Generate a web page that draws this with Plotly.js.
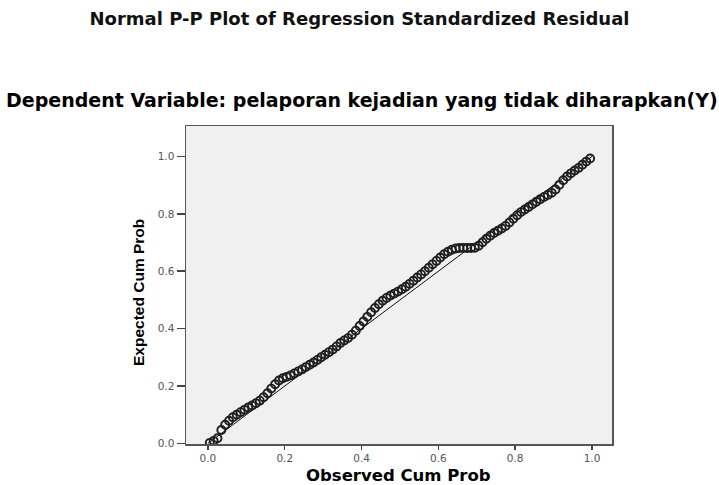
<!DOCTYPE html>
<html>
<head>
<meta charset="utf-8">
<script src="https://cdn.plot.ly/plotly-3.0.1.min.js"></script>
<style>html,body{margin:0;padding:0;background:#fff;}#chart{width:719px;height:485px;}</style>
</head>
<body>
<div id="chart"></div>
<script>
// Observed cumulative probability (x) and expected cumulative probability (y)
var observedCumProb = [
0.005,0.015,0.025,0.035,0.045,0.055,0.065,0.075,0.085,0.095,
0.105,0.115,0.125,0.135,0.145,0.155,0.165,0.175,0.185,0.195,
0.205,0.215,0.225,0.235,0.245,0.255,0.265,0.275,0.285,0.295,
0.305,0.315,0.325,0.335,0.345,0.355,0.365,0.375,0.385,0.395,
0.405,0.415,0.425,0.435,0.445,0.455,0.465,0.475,0.485,0.495,
0.505,0.515,0.525,0.535,0.545,0.555,0.565,0.575,0.585,0.595,
0.605,0.615,0.625,0.635,0.645,0.655,0.665,0.675,0.685,0.695,
0.705,0.715,0.725,0.735,0.745,0.755,0.765,0.775,0.785,0.795,
0.805,0.815,0.825,0.835,0.845,0.855,0.865,0.875,0.885,0.895,
0.905,0.915,0.925,0.935,0.945,0.955,0.965,0.975,0.985,0.995
];
var expectedCumProb = [
0.002,0.009,0.018,0.047,0.065,0.079,0.091,0.100,0.109,0.117,
0.125,0.132,0.140,0.149,0.161,0.175,0.191,0.206,0.219,0.227,
0.232,0.237,0.244,0.251,0.258,0.266,0.274,0.282,0.291,0.300,
0.309,0.318,0.327,0.338,0.350,0.359,0.367,0.379,0.393,0.409,
0.425,0.441,0.457,0.472,0.485,0.497,0.507,0.515,0.522,0.529,
0.537,0.546,0.556,0.567,0.578,0.589,0.600,0.612,0.624,0.636,
0.648,0.659,0.668,0.675,0.679,0.681,0.681,0.681,0.681,0.682,
0.689,0.701,0.713,0.724,0.733,0.741,0.749,0.758,0.770,0.783,
0.795,0.806,0.815,0.824,0.833,0.842,0.851,0.859,0.866,0.873,
0.885,0.901,0.917,0.930,0.941,0.951,0.960,0.971,0.982,0.993
];
// Reference diagonal line endpoints
var refLineX = [0, 1];
var refLineY = [0, 1];
var tickValues = [0, 0.2, 0.4, 0.6, 0.8, 1.0];
var tickLabels = ["0.0", "0.2", "0.4", "0.6", "0.8", "1.0"];

var titleText = "Normal P-P Plot of Regression Standardized Residual";
var subtitleText = "Dependent Variable: pelaporan kejadian yang tidak diharapkan(Y)";
var xTitle = "Observed Cum Prob";
var yTitle = "Expected Cum Prob";

var traces = [
  {
    x: refLineX, y: refLineY, mode: "lines", type: "scatter",
    line: {color: "#111", width: 1}, hoverinfo: "skip", showlegend: false
  },
  {
    x: observedCumProb, y: expectedCumProb, mode: "markers", type: "scatter",
    marker: {symbol: "circle-open", size: 8, color: "#1e1e1e", line: {width: 1.9, color: "#1e1e1e"}},
    showlegend: false
  }
];

var tickFont = {family: "DejaVu Sans, sans-serif", size: 10.5, color: "#555"};
var plotTop = 126, plotBottom = 444, plotLeft = 186, plotRight = 612;
var plotH = plotBottom - plotTop, plotW = plotRight - plotLeft;

var layout = {
  width: 719, height: 485,
  margin: {l: plotLeft, r: 719 - plotRight, t: plotTop, b: 485 - plotBottom},
  paper_bgcolor: "#ffffff",
  plot_bgcolor: "#f0f0f0",
  title: {
    text: titleText,
    font: {family: "DejaVu Sans, sans-serif", size: 18, color: "#111", weight: "bold"},
    x: 0.5, xref: "container", xanchor: "center",
    y: 1 - 19/485, yref: "container", yanchor: "middle"
  },
  xaxis: {
    range: [-0.057, 1.052],
    tickvals: tickValues, ticktext: tickLabels,
    ticks: "outside", ticklen: 4, tickwidth: 1.5, tickcolor: "#444",
    tickfont: tickFont,
    showgrid: false, zeroline: false,
    showline: true, mirror: true, linecolor: "#555", linewidth: 1.5
  },
  yaxis: {
    range: [-0.002, 1.106],
    tickvals: tickValues, ticktext: tickLabels,
    ticks: "outside", ticklen: 8, tickwidth: 1.5, tickcolor: "#444",
    tickfont: tickFont,
    showgrid: false, zeroline: false,
    showline: true, mirror: true, linecolor: "#555", linewidth: 1.5
  },
  annotations: [
    {
      text: subtitleText, showarrow: false,
      xref: "paper", x: (362 - plotLeft) / plotW, xanchor: "center",
      yref: "paper", y: (plotBottom - 100) / plotH, yanchor: "middle",
      font: {family: "DejaVu Sans, sans-serif", size: 19, color: "#000", weight: "bold"}
    },
    {
      text: xTitle, showarrow: false,
      xref: "paper", x: (398 - plotLeft) / plotW, xanchor: "center",
      yref: "paper", y: (plotBottom - 475) / plotH, yanchor: "middle",
      font: {family: "DejaVu Sans, sans-serif", size: 16.5, color: "#000", weight: "bold"}
    },
    {
      text: yTitle, showarrow: false, textangle: -90,
      xref: "paper", x: (138 - plotLeft) / plotW, xanchor: "center",
      yref: "paper", y: (plotBottom - 293) / plotH, yanchor: "middle",
      font: {family: "Liberation Sans, Arial, sans-serif", size: 15.5, color: "#000", weight: "bold"}
    }
  ]
};

Plotly.newPlot("chart", traces, layout, {displayModeBar: false, staticPlot: true});
</script>
</body>
</html>
